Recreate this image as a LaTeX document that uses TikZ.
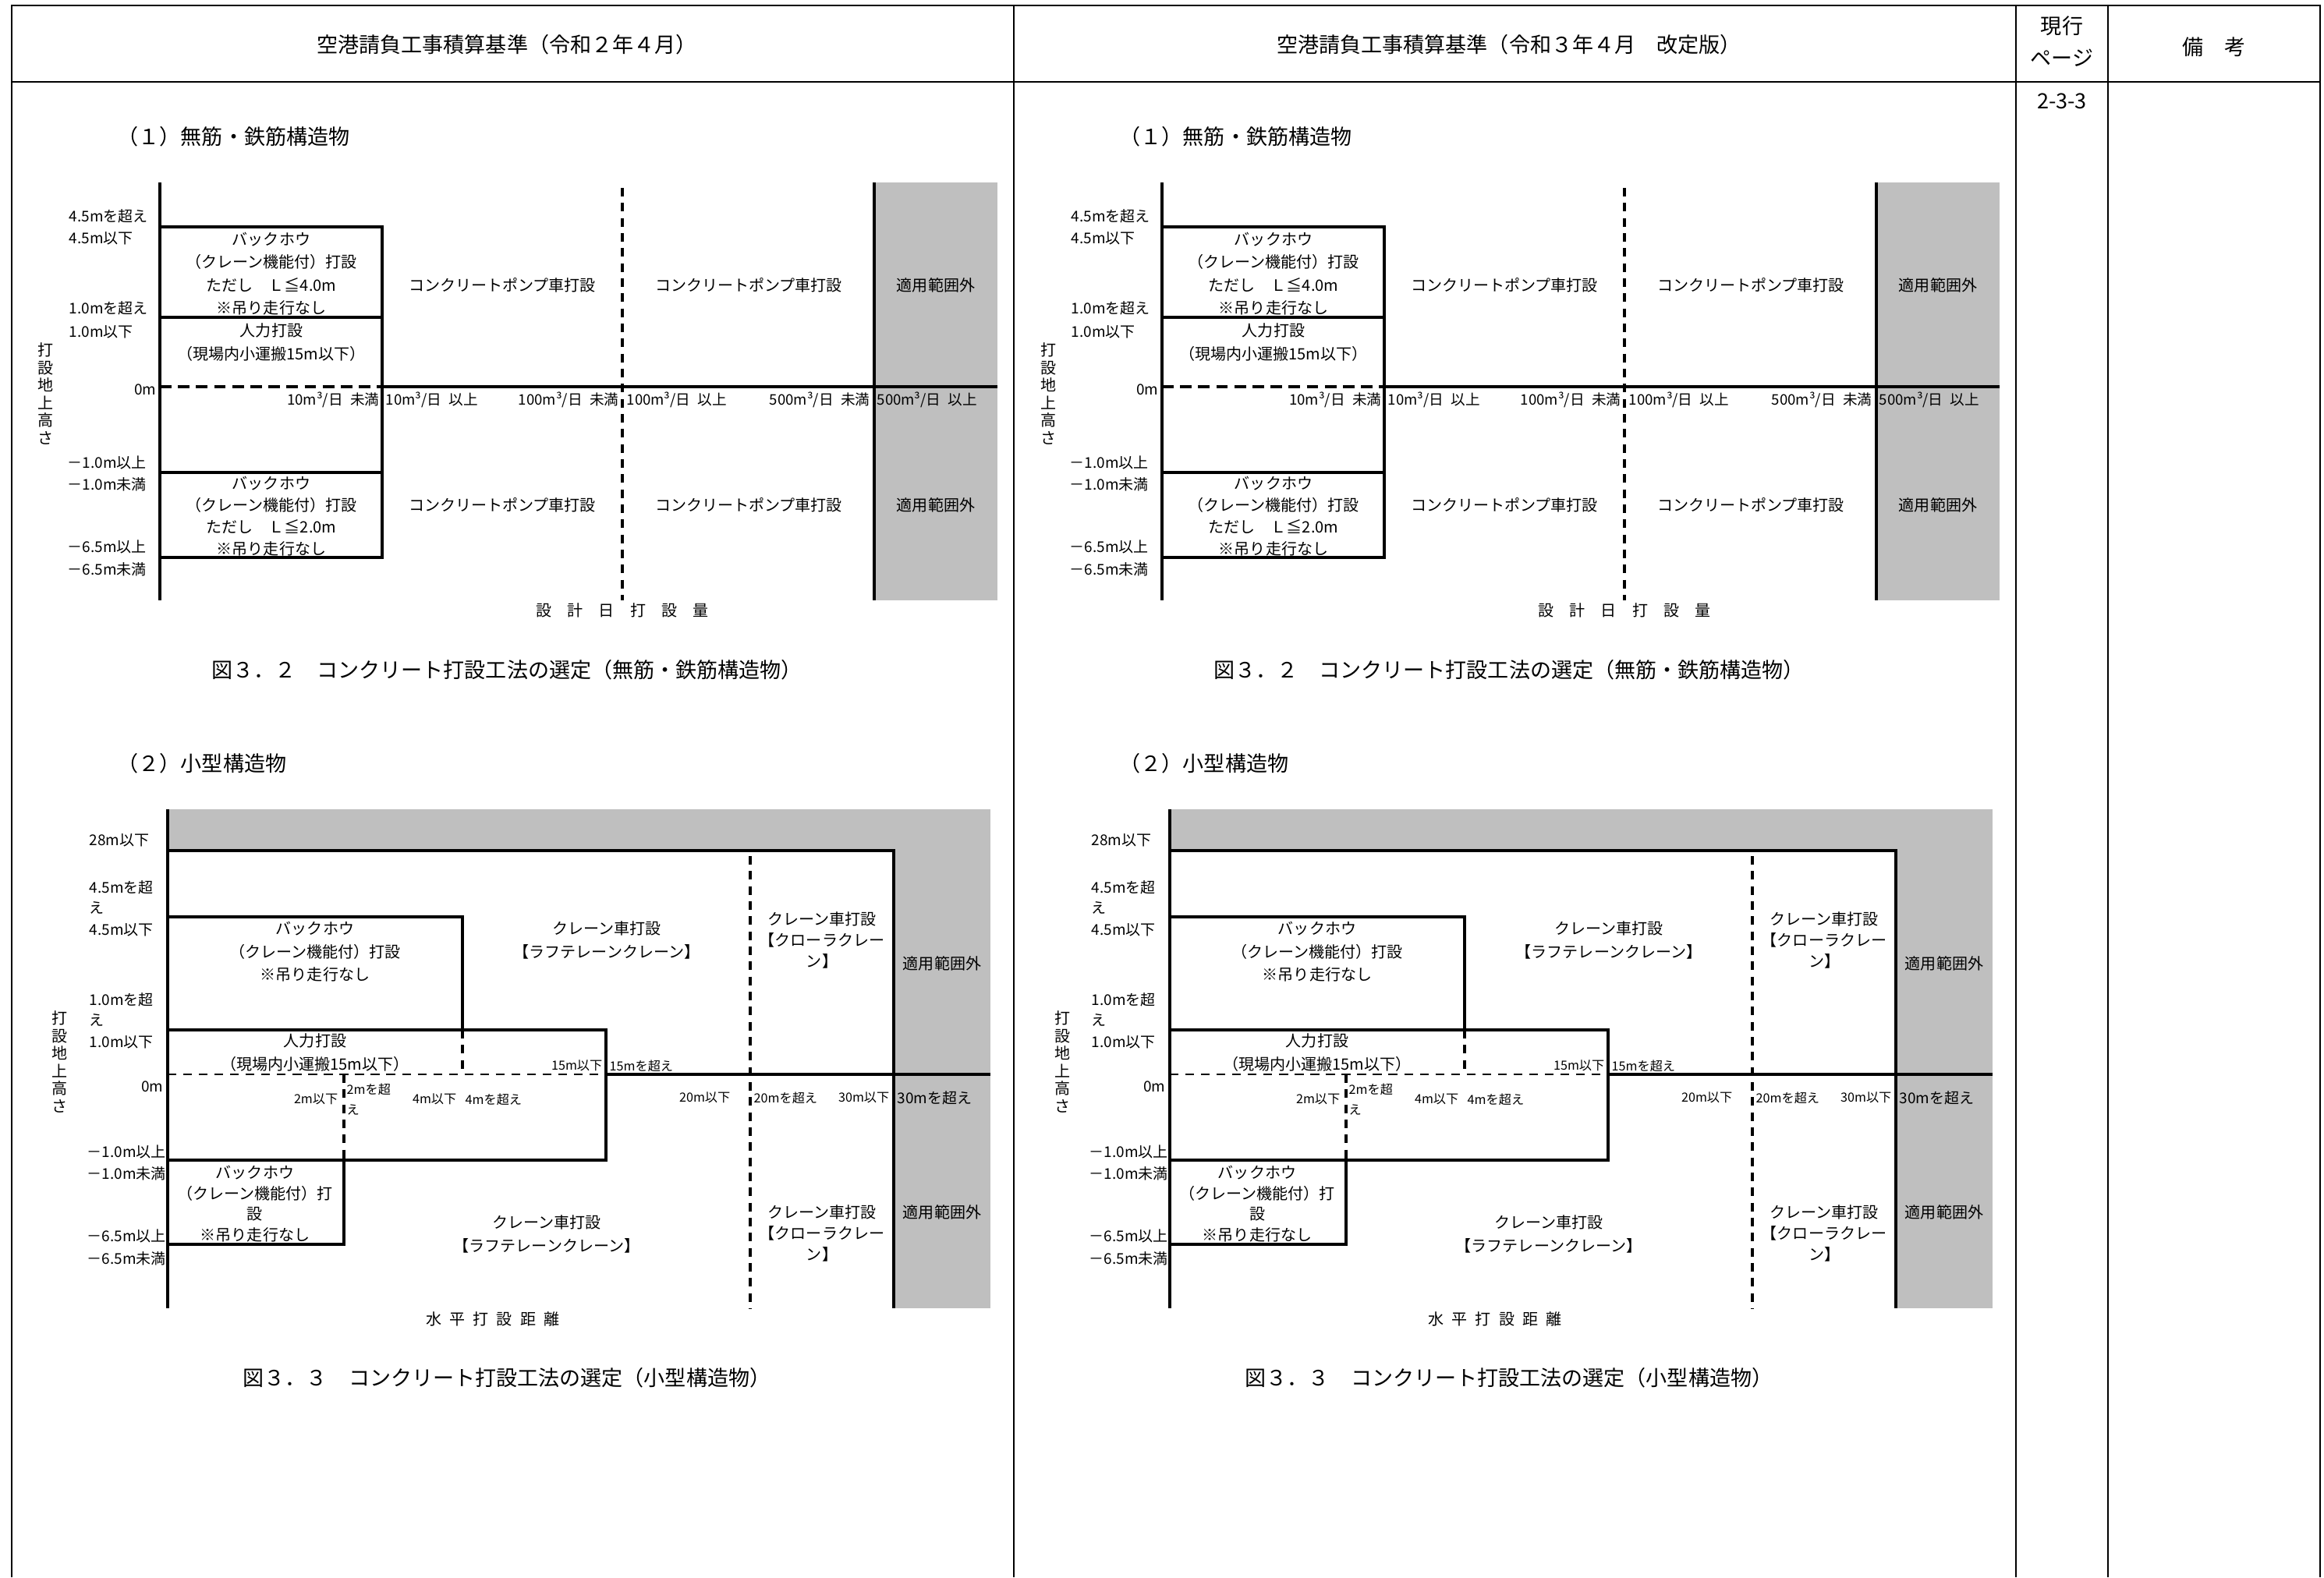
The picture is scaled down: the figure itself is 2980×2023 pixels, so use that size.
\documentclass[tikz,border=0pt]{standalone}
\usepackage{fontspec}
\setmainfont{Noto Sans CJK JP}
\usetikzlibrary{positioning}

\newcommand{\kgap}{\hspace{0.5em}}

\begin{document}
\begin{tikzpicture}[
    x=0.1mm, y=-0.1mm, % one unit = one pixel of the page, y downwards
    rule/.style={line width=0.6pt}, % table rules
    wall/.style={line width=1pt}, % region borders
    dashwall/.style={line width=1pt, dash pattern=on 3.1pt off 2.4pt}, % dashed region borders
    zeroline/.style={line width=1pt, dash pattern=on 4.2pt off 2.4pt}, % 0m line (fig 3.2)
    thindash/.style={line width=0.5pt, dash pattern=on 3.2pt off 2.5pt}, % 0m line (fig 3.3)
    outside/.style={fill=black!25}, % out of range
    headtext/.style={font=\fontsize{7.7}{11.7}\selectfont, align=center, inner sep=0pt},
    boxtext/.style={font=\fontsize{5.7}{8.4}\selectfont, align=center, inner sep=0pt},
    cranetext/.style={font=\fontsize{5.7}{7.6}\selectfont, align=center, inner sep=0pt},
    ticktext/.style={font=\fontsize{5.4}{7.4}\selectfont, align=left, inner sep=0pt},
    volumetext/.style={font=\fontsize{5.3}{7.4}\selectfont, align=left, inner sep=0pt},
    smalltext/.style={font=\fontsize{4.6}{7.4}\selectfont, align=left, inner sep=0pt},
    vertext/.style={font=\fontsize{5.7}{6.4}\selectfont, align=center, inner sep=0pt}
]
    \useasboundingbox (0,0) rectangle (2980,2023);

    % --- Table frame ---
    \draw[rule] (15,2023) -- (15,7) -- (2975,7) -- (2975,2023);
    \draw[rule] (15,105) -- (2975,105);
    \foreach \xx in {1300,2585,2703}
        \draw[rule] (\xx,7) -- (\xx,2023);

    \node[headtext] (headL) at (650,57) {空港請負工事積算基準（令和２年４月）};
    \node[headtext] (headR) at (1935,57) {空港請負工事積算基準（令和３年４月　改定版）};
    \node[headtext] (page) at (2644,53) {現行\\ページ};
    \node[headtext] (note) at (2839,60) {備　考};
    \node[headtext] (pageno) at (2644,130) {2-3-3};

    % --- Both columns carry the same two figures ---
    \foreach \dx/\s in {0/L,1285/R} {
    \begin{scope}[shift={(\dx,0)}]
        % Fig 3.2
        \node[headtext, anchor=west] (titleA\s) at (150,175) {（１）無筋・鉄筋構造物};
        \fill[outside] (1121,234) rectangle (1279,770);
        \draw[wall] (205,234) -- (205,770);
        \draw[wall] (205,291) -- (490,291) -- (490,715) -- (205,715);
        \draw[wall] (205,407) -- (490,407);
        \draw[wall] (205,606) -- (490,606);
        \draw[zeroline] (205,496) -- (490,496);
        \draw[wall] (490,496) -- (1279,496);
        \draw[dashwall] (798,241) -- (798,770);
        \draw[wall] (1121,234) -- (1121,770);

        \node[ticktext, anchor=west] at (88,277) {4.5mを超え};
        \node[ticktext, anchor=west] at (88,306) {4.5m以下};
        \node[ticktext, anchor=west] at (88,395) {1.0mを超え};
        \node[ticktext, anchor=west] at (88,426) {1.0m以下};
        \node[ticktext, anchor=east] at (201,500) {0m};
        \node[ticktext, anchor=west] at (86,593) {－1.0m以上};
        \node[ticktext, anchor=west] at (86,621) {－1.0m未満};
        \node[ticktext, anchor=west] at (86,701) {－6.5m以上};
        \node[ticktext, anchor=west] at (86,730) {－6.5m未満};
        \node[vertext] (heightA\s) at (59,505) {打\\設\\地\\上\\高\\さ};

        \node[boxtext] (bhupA\s) at (348,351) {バックホウ\\（クレーン機能付）打設\\ただし　Ｌ≦4.0m\\※吊り走行なし};
        \node[boxtext] (manA\s) at (348,439) {人力打設\\（現場内小運搬15m以下）};
        \node[cranetext, font=\fontsize{5.7}{7.9}\selectfont] (bhdnA\s) at (348,662) {バックホウ\\（クレーン機能付）打設\\ただし　Ｌ≦2.0m\\※吊り走行なし};
        \node[boxtext] (pump1\s) at (644,366) {コンクリートポンプ車打設};
        \node[boxtext] (pump2\s) at (960,366) {コンクリートポンプ車打設};
        \node[boxtext] (pump3\s) at (644,648) {コンクリートポンプ車打設};
        \node[boxtext] (pump4\s) at (960,648) {コンクリートポンプ車打設};
        \node[boxtext] (outA1\s) at (1200,366) {適用範囲外};
        \node[boxtext] (outA2\s) at (1200,648) {適用範囲外};

        \node[volumetext, anchor=east] at (487,513) {10m³/日\kgap 未満};
        \node[volumetext, anchor=west] at (494,513) {10m³/日\kgap 以上};
        \node[volumetext, anchor=east] at (794,513) {100m³/日\kgap 未満};
        \node[volumetext, anchor=west] at (803,513) {100m³/日\kgap 以上};
        \node[volumetext, anchor=east] at (1116,513) {500m³/日\kgap 未満};
        \node[volumetext, anchor=west] at (1124,513) {500m³/日\kgap 以上};
        \node[boxtext] (volume\s) at (798,783) {設　計　日　打　設　量};
        \node[headtext] (capA\s) at (650,859) {図３．２　コンクリート打設工法の選定（無筋・鉄筋構造物）};

        % Fig 3.3
        \node[headtext, anchor=west] (titleB\s) at (150,979) {（２）小型構造物};
        \fill[outside] (215,1038) rectangle (1270,1091);
        \fill[outside] (1146,1091) rectangle (1270,1678);
        \draw[wall] (215,1038) -- (215,1678);
        \draw[wall] (215,1091) -- (1146,1091) -- (1146,1678);
        \draw[wall] (215,1176) -- (593,1176) -- (593,1321);
        \draw[dashwall] (593,1321) -- (593,1378);
        \draw[wall] (215,1321) -- (777,1321) -- (777,1488) -- (215,1488);
        \draw[thindash] (215,1378) -- (777,1378);
        \draw[wall] (777,1378) -- (1270,1378);
        \draw[dashwall] (441,1378) -- (441,1488);
        \draw[wall] (441,1488) -- (441,1596) -- (215,1596);
        \draw[dashwall] (962,1098) -- (962,1678);

        \node[ticktext, anchor=west] at (114,1078) {28m以下};
        \node[ticktext, anchor=west] at (114,1151) {4.5mを超\\え};
        \node[ticktext, anchor=west] at (114,1193) {4.5m以下};
        \node[ticktext, anchor=west] at (114,1295) {1.0mを超\\え};
        \node[ticktext, anchor=west] at (114,1337) {1.0m以下};
        \node[ticktext, anchor=east] at (210,1394) {0m};
        \node[ticktext, anchor=west] at (111,1477) {－1.0m以上};
        \node[ticktext, anchor=west] at (111,1505) {－1.0m未満};
        \node[ticktext, anchor=west] at (111,1585) {－6.5m以上};
        \node[ticktext, anchor=west] at (111,1614) {－6.5m未満};
        \node[vertext] (heightB\s) at (77,1362) {打\\設\\地\\上\\高\\さ};

        \node[boxtext] (bhupB\s) at (404,1221) {バックホウ\\（クレーン機能付）打設\\※吊り走行なし};
        \node[boxtext] (manB\s) at (404,1350) {人力打設\\（現場内小運搬15m以下）};
        \node[cranetext] (bhdnB\s) at (327,1544) {バックホウ\\（クレーン機能付）打\\設\\※吊り走行なし};
        \node[boxtext] (roughup\s) at (778,1206) {クレーン車打設\\【ラフテレーンクレーン】};
        \node[boxtext] (roughdn\s) at (701,1583) {クレーン車打設\\【ラフテレーンクレーン】};
        \node[cranetext] (crawlup\s) at (1054,1206) {クレーン車打設\\【クローラクレー\\ン】};
        \node[cranetext] (crawldn\s) at (1054,1582) {クレーン車打設\\【クローラクレー\\ン】};
        \node[boxtext] (outB1\s) at (1208,1236) {適用範囲外};
        \node[boxtext] (outB2\s) at (1208,1555) {適用範囲外};

        \node[smalltext, anchor=east] at (434,1410) {2m以下};
        \node[smalltext, anchor=west] at (444,1410) {2mを超\\え};
        \node[smalltext, anchor=east] at (586,1410) {4m以下};
        \node[smalltext, anchor=west] at (596,1410) {4mを超え};
        \node[smalltext, anchor=east] at (773,1367) {15m以下};
        \node[smalltext, anchor=west] at (781,1367) {15mを超え};
        \node[smalltext, anchor=east] at (937,1408) {20m以下};
        \node[smalltext, anchor=west] at (966,1408) {20mを超え};
        \node[smalltext, anchor=east] at (1141,1408) {30m以下};
        \node[ticktext, anchor=west] at (1150,1408) {30mを超え};
        \node[boxtext] (dist\s) at (632,1692) {水\kgap 平\kgap 打\kgap 設\kgap 距\kgap 離};
        \node[headtext] (capB\s) at (650,1767) {図３．３　コンクリート打設工法の選定（小型構造物）};
    \end{scope}
    }
\end{tikzpicture}
\end{document}
